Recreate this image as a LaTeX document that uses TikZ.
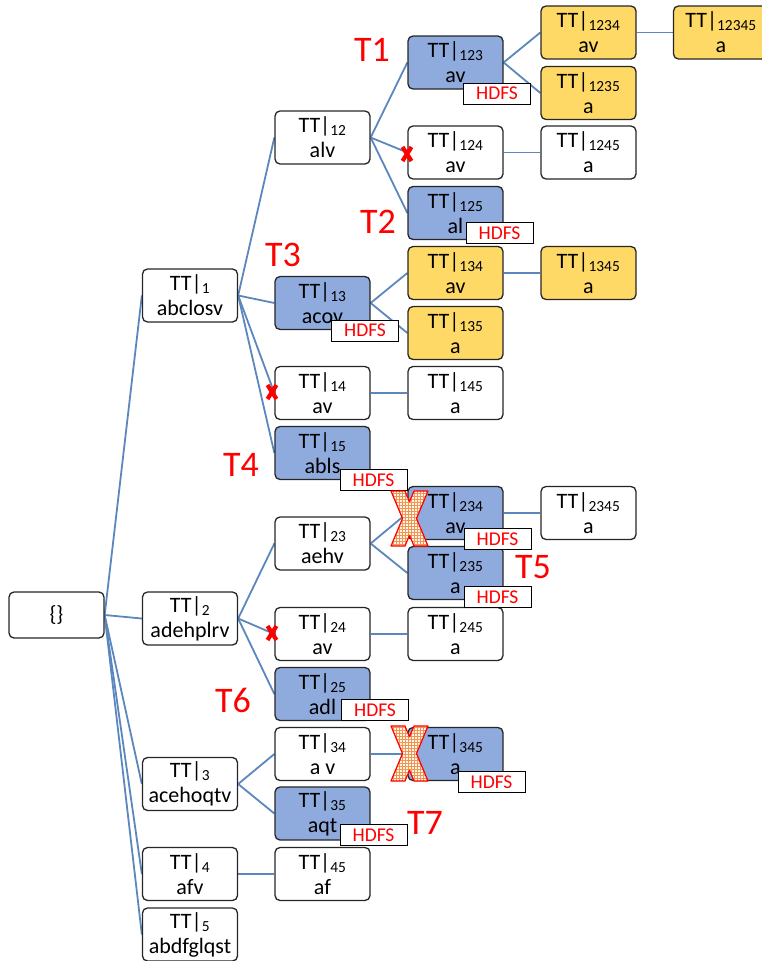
\documentclass[tikz,border=0pt]{standalone}
\usepackage{fontspec}
\setmainfont{Carlito}
\usetikzlibrary{backgrounds,patterns}
\definecolor{linkblue}{RGB}{91,135,190}
\definecolor{boxblue}{RGB}{143,170,220}
\definecolor{boxgold}{RGB}{255,217,102}
\definecolor{hatchorange}{RGB}{240,150,80}
\newcommand{\pj}[2]{TT|\textsubscript{#1}\\#2}
\newcommand{\hatchx}[1]{%
  \begin{scope}[shift={(#1)}]
    \fill[orange!8] (-18.5,-27.5) -- (-4.5,-27.5) -- (0,-16.7) -- (4.5,-27.5) -- (18.5,-27.5) -- (7,0)
      -- (18.5,27.5) -- (4.5,27.5) -- (0,16.7) -- (-4.5,27.5) -- (-18.5,27.5) -- (-7,0) -- cycle;
    \fill[pattern=grid,pattern color=hatchorange] (-18.5,-27.5) -- (-4.5,-27.5) -- (0,-16.7) -- (4.5,-27.5) -- (18.5,-27.5) -- (7,0)
      -- (18.5,27.5) -- (4.5,27.5) -- (0,16.7) -- (-4.5,27.5) -- (-18.5,27.5) -- (-7,0) -- cycle;
    \draw[red,line width=1.2pt,line join=round] (-18.5,-27.5) -- (-4.5,-27.5) -- (0,-16.7) -- (4.5,-27.5) -- (18.5,-27.5) -- (7,0)
      -- (18.5,27.5) -- (4.5,27.5) -- (0,16.7) -- (-4.5,27.5) -- (-18.5,27.5) -- (-7,0) -- cycle;
  \end{scope}}
\newcommand{\smallx}[1]{%
  \begin{scope}[shift={(#1)}]
    \draw[red,line width=4.2pt] (-4.5,-7) -- (4.5,7) (-4.5,7) -- (4.5,-7);
  \end{scope}}
\begin{document}
\begin{tikzpicture}[x=1pt,y=-1pt,font=\fontsize{22}{25}\selectfont]
        \tikzstyle{proj}=[rectangle,rounded corners=5pt,draw=black!85,line width=1.3pt,fill=white,minimum width=95pt,minimum height=53pt,inner sep=0pt,align=center]
        \tikzstyle{hot}=[proj,fill=boxblue]
        \tikzstyle{done}=[proj,fill=boxgold]
        \tikzstyle{hdfs}=[draw=black,line width=1pt,fill=white,text=red,font=\fontsize{19.5}{19.5}\selectfont,minimum width=67pt,minimum height=21pt,inner sep=0pt]
        \tikzstyle{task}=[text=red,font=\fontsize{36}{36}\selectfont,inner sep=0pt]
        \tikzstyle{link}=[draw=linkblue,line width=1.8pt]
        \useasboundingbox (0,0) rectangle (762,961);
        \node [proj,minimum height=46pt] (root) at (56.5,615) {\{\}};
        \node [proj] (p1) at (190,295.5) {\pj{1}{abclosv}};
        \node [proj] (p2) at (190,618.5) {\pj{2}{adehplrv}};
        \node [proj] (p3) at (190,784) {\pj{3}{acehoqtv}};
        \node [proj] (p4) at (190,874) {\pj{4}{afv}};
        \node [proj] (p5) at (190,934.5) {\pj{5}{abdfglqst}};
        \node [proj] (p12) at (322.5,137.5) {\pj{12}{alv}};
        \node [hot] (p13) at (322.5,303) {\pj{13}{acov}};
        \node [proj] (p14) at (322.5,393) {\pj{14}{av}};
        \node [hot] (p15) at (322.5,453) {\pj{15}{abls}};
        \node [proj] (p23) at (322.5,543.5) {\pj{23}{aehv}};
        \node [proj] (p24) at (322.5,634) {\pj{24}{av}};
        \node [hot] (p25) at (322.5,694) {\pj{25}{adl}};
        \node [proj] (p34) at (322.5,754) {\pj{34}{a v}};
        \node [hot] (p35) at (322.5,813.5) {\pj{35}{aqt}};
        \node [proj] (p45) at (322.5,874) {\pj{45}{af}};
        \node [hot] (p123) at (455.5,62.5) {\pj{123}{av}};
        \node [proj] (p124) at (455.5,152.5) {\pj{124}{av}};
        \node [hot] (p125) at (455.5,213) {\pj{125}{al}};
        \node [done] (p134) at (455.5,273) {\pj{134}{av}};
        \node [done] (p135) at (455.5,333) {\pj{135}{a}};
        \node [proj] (p145) at (455.5,393) {\pj{145}{a}};
        \node [hot] (p234) at (455.5,513) {\pj{234}{av}};
        \node [hot] (p235) at (455.5,573) {\pj{235}{a}};
        \node [proj] (p245) at (455.5,634) {\pj{245}{a}};
        \node [hot] (p345) at (455.5,754) {\pj{345}{a}};
        \node [done] (p1234) at (588.5,32.5) {\pj{1234}{av}};
        \node [done] (p1235) at (588.5,93) {\pj{1235}{a}};
        \node [proj] (p1245) at (588.5,152.5) {\pj{1245}{a}};
        \node [done] (p1345) at (588.5,273) {\pj{1345}{a}};
        \node [proj] (p2345) at (588.5,513) {\pj{2345}{a}};
        \node [done] (p12345) at (721,32.5) {\pj{12345}{a}};
        \begin{scope}[on background layer]
          \foreach \a/\b in {root/p1,root/p2,root/p3,root/p4,root/p5,p1/p12,p1/p13,p1/p14,p1/p15,
              p2/p23,p2/p24,p2/p25,p3/p34,p3/p35,p4/p45,p12/p123,p12/p124,p12/p125,p13/p134,p13/p135,
              p14/p145,p23/p234,p23/p235,p24/p245,p34/p345,p123/p1234,p123/p1235,p124/p1245,
              p134/p1345,p234/p2345,p1234/p12345}
            \path[link] (\a.east) -- (\b.west);
        \end{scope}
        \node [hdfs] (h123) at (497,93.5) {HDFS};
        \node [hdfs] (h125) at (499.5,233) {HDFS};
        \node [hdfs] (h13) at (365,330.5) {HDFS};
        \node [hdfs] (h15) at (373.5,480) {HDFS};
        \node [hdfs] (h234) at (497.5,539) {HDFS};
        \node [hdfs] (h235) at (497.5,597) {HDFS};
        \node [hdfs] (h25) at (375,710) {HDFS};
        \node [hdfs] (h345) at (491.5,782) {HDFS};
        \node [hdfs] (h35) at (373.5,835) {HDFS};
        \node [task] (t1) at (372,50) {T1};
        \node [task] (t2) at (378,222) {T2};
        \node [task] (t3) at (283,255) {T3};
        \node [task] (t4) at (241,465) {T4};
        \node [task] (t5) at (533,567) {T5};
        \node [task] (t6) at (233,700) {T6};
        \node [task] (t7) at (425,823) {T7};
        \smallx{407,154}
        \smallx{272,392}
        \smallx{272,633}
        \hatchx{409.5,518.5}
        \hatchx{409.5,753.5}
      \end{tikzpicture}
\end{document}
